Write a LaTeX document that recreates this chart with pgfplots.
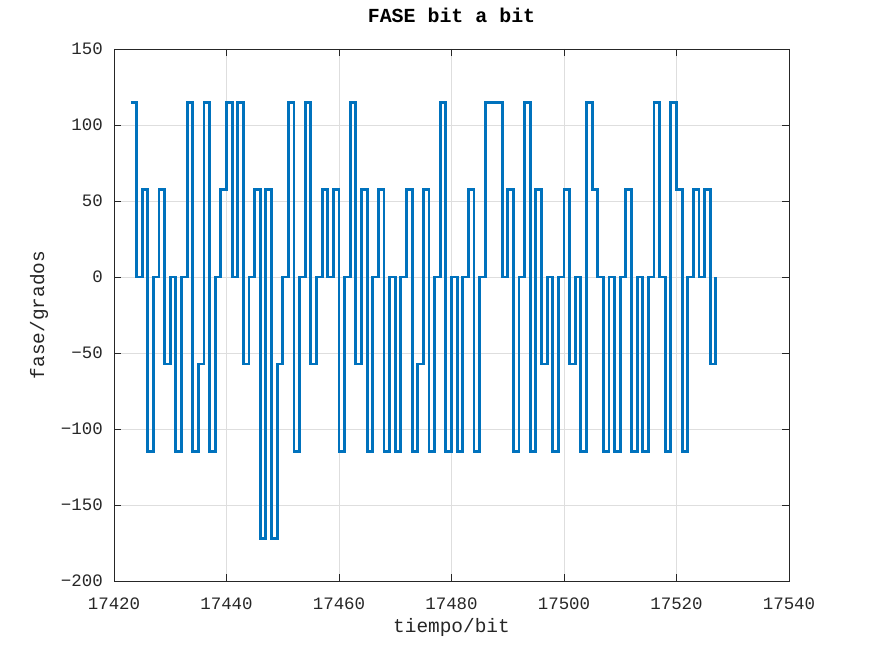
\documentclass[border=0pt]{standalone}
\usepackage{fontspec}
\setmainfont{Liberation Mono}
\usepackage{pgfplots}
\usepackage{pgfplotstable}
\pgfplotsset{compat=1.18}
\definecolor{mblue}{rgb}{0,0.447,0.741}
\definecolor{axc}{HTML}{262626}
\pgfplotstableread{
x y
17423 114.59
17424 0
17425 57.30
17426 -114.59
17427 0
17428 57.30
17429 -57.30
17430 0
17431 -114.59
17432 0
17433 114.59
17434 -114.59
17435 -57.30
17436 114.59
17437 -114.59
17438 0
17439 57.30
17440 114.59
17441 0
17442 114.59
17443 -57.30
17444 0
17445 57.30
17446 -171.89
17447 57.30
17448 -171.89
17449 -57.30
17450 0
17451 114.59
17452 -114.59
17453 0
17454 114.59
17455 -57.30
17456 0
17457 57.30
17458 0
17459 57.30
17460 -114.59
17461 0
17462 114.59
17463 -57.30
17464 57.30
17465 -114.59
17466 0
17467 57.30
17468 -114.59
17469 0
17470 -114.59
17471 0
17472 57.30
17473 -114.59
17474 -57.30
17475 57.30
17476 -114.59
17477 0
17478 114.59
17479 -114.59
17480 0
17481 -114.59
17482 0
17483 57.30
17484 -114.59
17485 0
17486 114.59
17487 114.59
17488 114.59
17489 0
17490 57.30
17491 -114.59
17492 0
17493 114.59
17494 -114.59
17495 57.30
17496 -57.30
17497 0
17498 -114.59
17499 0
17500 57.30
17501 -57.30
17502 0
17503 -114.59
17504 114.59
17505 57.30
17506 0
17507 -114.59
17508 0
17509 -114.59
17510 0
17511 57.30
17512 -114.59
17513 0
17514 -114.59
17515 0
17516 114.59
17517 0
17518 -114.59
17519 114.59
17520 57.30
17521 -114.59
17522 0
17523 57.30
17524 0
17525 57.30
17526 -57.30
17527 0
}\fasedata
\begin{document}
\begin{tikzpicture}[x=1bp,y=1bp]
\path (0,0) rectangle (872,654);
\begin{axis}[
  at={(114bp,73bp)}, anchor=south west,
  scale only axis, width=675bp, height=532bp,
  xmin=17420, xmax=17540, ymin=-200, ymax=150,
  scaled x ticks=false, scaled y ticks=false,
  xtick={17420,17440,17460,17480,17500,17520,17540},
  xticklabels={17420,17440,17460,17480,17500,17520,17540},
  ytick={-200,-150,-100,-50,0,50,100,150},
  yticklabels={−200,−150,−100,−50,0,50,100,150},
  grid=major,
  major grid style={color=black!13, line width=0.6bp},
  tick align=inside, major tick length=7bp,
  axis line style={axc, line width=0.8bp},
  tick style={axc, line width=0.8bp},
  ticklabel style={font=\fontsize{17.5}{20}\selectfont, text=axc, inner sep=0pt},
  xticklabel style={anchor=base, yshift=-29bp},
  yticklabel style={anchor=east, xshift=-11bp},
  title={FASE bit a bit},
  title style={font=\fontsize{20}{24}\selectfont\bfseries, at={(axis description cs:0.5,1)}, anchor=base, yshift=21bp, inner sep=0pt},
  xlabel={tiempo/bit},
  ylabel={fase/grados},
  xlabel style={font=\fontsize{19.5}{23}\selectfont, text=axc, at={(axis description cs:0.5,-0.0977)}, anchor=base, inner sep=0pt},
  ylabel style={font=\fontsize{19.5}{23}\selectfont, text=axc, at={(axis description cs:-0.1037,0.5)}, anchor=base, inner sep=0pt},
]
\addplot[const plot mark left, color=mblue, line width=2.8bp, line join=miter, mark=none] table[x=x,y=y] {\fasedata};
\end{axis}
\end{tikzpicture}
\end{document}
